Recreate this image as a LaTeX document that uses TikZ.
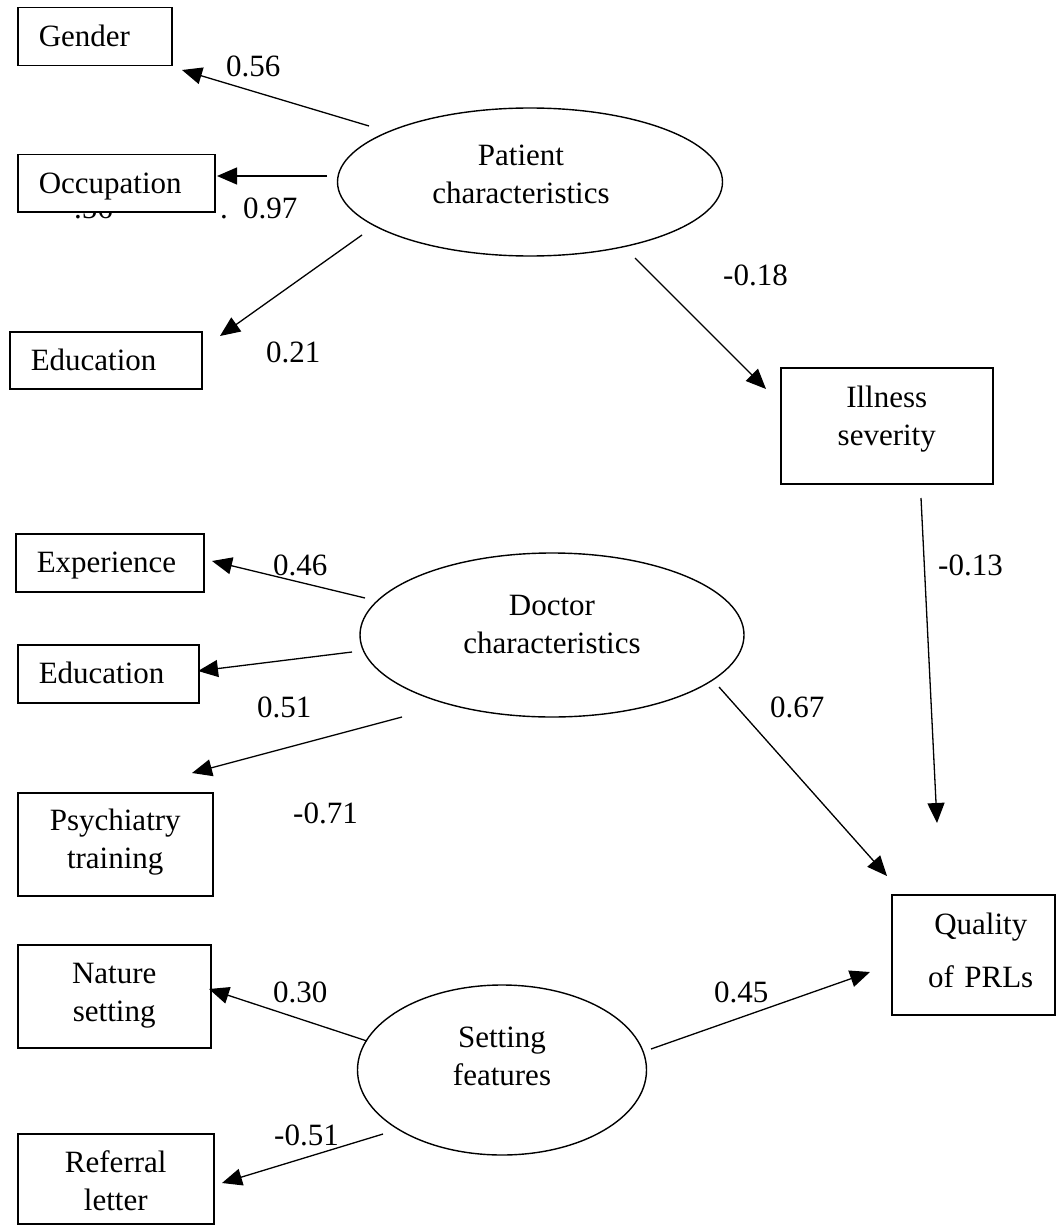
\documentclass[tikz,border=0pt]{standalone}
\usepackage{fontspec}
\setmainfont{Liberation Serif}
\usetikzlibrary{arrows.meta,shapes.geometric}
\begin{document}
\begin{tikzpicture}[x=1pt,y=-1pt,
  every node/.style={font=\fontsize{31}{38}\selectfont},
  lbox/.style={draw,line width=1.5pt,fill=white,anchor=north west,inner xsep=21pt,inner ysep=0pt,
    align=left,text height=22pt,text depth=2pt},
  cbox/.style={draw,line width=1.5pt,fill=white,anchor=north west,inner sep=0pt,align=center,text height=0pt},
  latent/.style={draw,ellipse,line width=1.4pt,inner sep=0pt,align=center,text width=200pt,text height=0pt},
  lab/.style={anchor=base west,inner sep=0pt},
  arr/.style={line width=1.3pt,-{Triangle[length=20pt,width=17pt]}}]
\useasboundingbox (0,0) rectangle (1056,1225);
% stray overlapped labels behind the Occupation box
\node[lab] (s56) at (74,218) {.56};
\node[lab] (sdot) at (220,218) {.};
\node[lab] (l097) at (243,218) {0.97};
% observed boxes
\node[lbox,minimum width=154pt,minimum height=58pt,text width=112pt] (gender) at (17,7) {Gender};
\node[lbox,minimum width=197pt,minimum height=57pt,text width=155pt] (occup) at (17,154) {Occupation};
\node[lbox,minimum width=192pt,minimum height=57pt,text width=150pt] (educa) at (9,331) {Education};
\node[lbox,minimum width=188pt,minimum height=58pt,text width=146pt] (exper) at (15,533) {Experience};
\node[lbox,minimum width=181pt,minimum height=58pt,text width=139pt] (educb) at (17,644) {Education};
\node[cbox,minimum width=195pt,minimum height=103pt,text width=195pt,text depth=27pt] (psych) at (17,792) {Psychiatry\\training};
\node[cbox,minimum width=193pt,minimum height=103pt,text width=193pt,text depth=25pt] (nature) at (17,944) {Nature\\setting};
\node[cbox,minimum width=196pt,minimum height=90pt,text width=196pt,text depth=12pt] (referral) at (17,1133) {Referral\\letter};
\node[cbox,minimum width=212pt,minimum height=116pt,text width=212pt,text depth=36pt] (illness) at (780,367) {Illness\\severity};
\node[cbox,minimum width=163pt,minimum height=120pt,text width=163pt,text depth=40pt] (quality) at (891,894) {\hspace*{15pt}Quality\\[15pt]\hspace*{15pt}of PRLs};
% latent variables
\node[latent,minimum width=385pt,minimum height=148pt,text depth=32pt] (patient) at (530,182) {Patient\rule{18pt}{0pt}\\characteristics\rule{18pt}{0pt}};
\node[latent,minimum width=384pt,minimum height=164pt,text depth=40pt] (doctor) at (552,635) {Doctor\\characteristics};
\node[latent,minimum width=289pt,minimum height=170pt,text depth=46pt] (setting) at (502,1070) {Setting\\features};
% connector end points
\coordinate (a1s) at (369,126);  \coordinate (a1e) at (182,70);
\coordinate (a2s) at (327,176);  \coordinate (a2e) at (217,176);
\coordinate (a3s) at (362,235);  \coordinate (a3e) at (220,336);
\coordinate (a4s) at (635,258);  \coordinate (a4e) at (766,389);
\coordinate (a5s) at (921,498);  \coordinate (a5e) at (937,823);
\coordinate (a6s) at (365,598);  \coordinate (a6e) at (212,561);
\coordinate (a7s) at (352,652);  \coordinate (a7e) at (198,671);
\coordinate (a8s) at (402,717);  \coordinate (a8e) at (192,773);
\coordinate (a9s) at (719,687);  \coordinate (a9e) at (887,876);
\coordinate (a10s) at (367,1041); \coordinate (a10e) at (209,989);
\coordinate (a11s) at (383,1134); \coordinate (a11e) at (222,1183);
\coordinate (a12s) at (651,1049); \coordinate (a12e) at (870,972);
\draw[arr] (a1s) -- (a1e);
\draw[arr] (a2s) -- (a2e);
\draw[arr] (a3s) -- (a3e);
\draw[arr] (a4s) -- (a4e);
\draw[arr] (a5s) -- (a5e);
\draw[arr] (a6s) -- (a6e);
\draw[arr] (a7s) -- (a7e);
\draw[arr] (a8s) -- (a8e);
\draw[arr] (a9s) -- (a9e);
\draw[arr] (a10s) -- (a10e);
\draw[arr] (a11s) -- (a11e);
\draw[arr] (a12s) -- (a12e);
% path coefficients
\node[lab] (l056) at (226,77) {0.56};
\node[lab] (l021) at (266,362) {0.21};
\node[lab] (l018) at (723,285) {-0.18};
\node[lab] (l013) at (938,575) {-0.13};
\node[lab] (l046) at (273,575) {0.46};
\node[lab] (l051) at (257,717) {0.51};
\node[lab] (l071) at (293,823) {-0.71};
\node[lab] (l067) at (770,717) {0.67};
\node[lab] (l030) at (273,1002) {0.30};
\node[lab] (l051b) at (274,1145) {-0.51};
\node[lab] (l045) at (714,1002) {0.45};
\end{tikzpicture}
\end{document}
